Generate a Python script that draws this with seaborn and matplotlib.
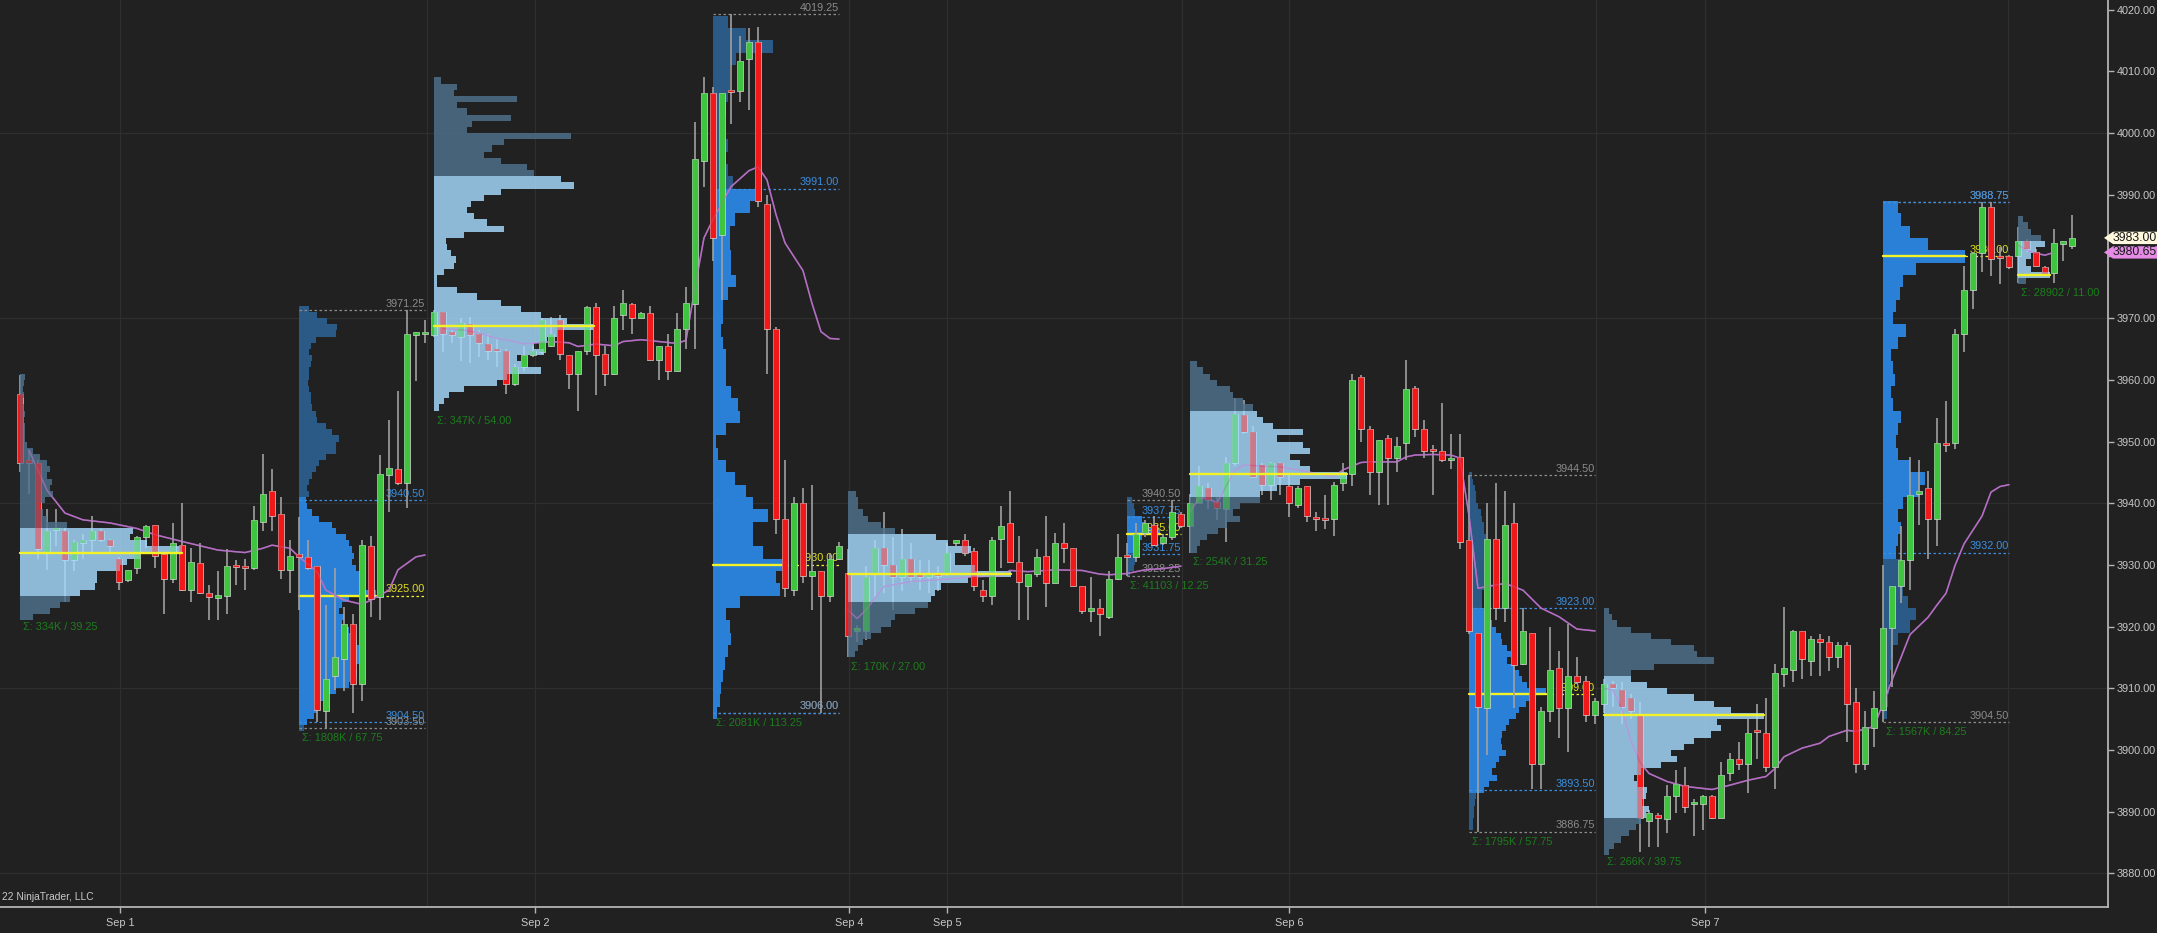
import numpy as np
import pandas as pd
import matplotlib
matplotlib.use("Agg")
import matplotlib.pyplot as plt
from matplotlib.patches import Polygon
from matplotlib.transforms import blended_transform_factory
import seaborn as sns

# ES 15-minute bars, Sep 1 - Sep 7
opens = [
    3957.75, 3947.0, 3946.5, 3932.0, 3935.75, 3935.5, 3930.75, 3933.5, 3934.0, 3935.5,
    3934.0, 3931.0, 3927.5, 3929.5, 3934.5, 3936.5, 3931.75, 3927.75, 3933.25, 3926.0,
    3930.25, 3925.5, 3924.75, 3925.0, 3930.0, 3929.75, 3929.5, 3937.0, 3942.0, 3938.25,
    3929.25, 3931.75, 3931.25, 3929.75, 3906.25, 3912.0, 3914.75, 3920.5, 3910.75, 3933.0,
    3924.75, 3944.5, 3945.5, 3943.25, 3967.5, 3967.5, 3967.25, 3971.0, 3967.75, 3967.0,
    3969.0, 3967.5, 3965.75, 3965.0, 3964.75, 3959.25, 3962.0, 3964.0, 3964.5, 3965.5,
    3969.75, 3964.0, 3961.0, 3964.75, 3971.75, 3964.25, 3961.0, 3970.5, 3972.25, 3970.0,
    3970.75, 3963.25, 3965.5, 3961.5, 3968.25, 3972.25, 3995.5, 4006.5, 3983.5, 4007.0,
    4006.75, 4012.0, 4014.75, 3988.5, 3968.25, 3937.5, 3926.0, 3940.0, 3928.25, 3929.0,
    3925.0, 3931.0, 3928.75, 3919.25, 3919.25, 3928.5, 3932.75, 3930.0, 3928.0, 3931.0,
    3928.5, 3928.0, 3928.5, 3928.5, 3933.5, 3934.0, 3932.25, 3926.0, 3925.0, 3934.25,
    3936.75, 3930.5, 3926.5, 3928.5, 3931.5, 3927.0, 3933.5, 3932.75, 3926.5, 3922.5,
    3923.0, 3921.5, 3927.75, 3931.5, 3931.25, 3935.25, 3936.5, 3933.5, 3934.5, 3938.25,
    3936.25, 3940.0, 3942.5, 3940.25, 3939.0, 3946.5, 3954.25, 3951.5, 3946.25, 3943.0,
    3946.5, 3942.75, 3939.75, 3942.75, 3937.75, 3937.5, 3937.5, 3943.25, 3944.75, 3960.5,
    3952.0, 3945.0, 3950.5, 3947.25, 3949.75, 3958.75, 3952.0, 3948.75, 3948.5, 3947.0,
    3947.5, 3934.0, 3919.0, 3906.75, 3934.25, 3923.0, 3936.75, 3914.0, 3919.0, 3897.75,
    3906.25, 3913.25, 3906.75, 3912.0, 3911.25, 3905.75, 3907.5, 3910.75, 3909.75, 3908.5,
    3905.75, 3888.5, 3889.5, 3888.75, 3892.5, 3894.25, 3891.25, 3891.25, 3892.5, 3889.0,
    3896.25, 3898.5, 3897.75, 3903.25, 3902.75, 3897.25, 3912.25, 3913.0, 3919.25, 3914.5,
    3918.0, 3917.5, 3915.0, 3917.0, 3907.75, 3897.75, 3903.5, 3906.5, 3919.75, 3926.5,
    3930.75, 3941.5, 3942.5, 3937.5, 3949.75, 3949.75, 3967.5, 3974.5, 3980.5, 3988.0,
    3980.0, 3980.0, 3980.0, 3982.5, 3980.75, 3978.25, 3977.25, 3982.25, 3981.75,
]
highs = [
    3960.75, 3948.5, 3947.0, 3939.0, 3939.0, 3936.0, 3934.0, 3935.0, 3938.0, 3935.75,
    3934.25, 3931.25, 3929.25, 3934.75, 3936.5, 3936.5, 3932.0, 3936.75, 3940.0, 3932.75,
    3933.5, 3926.75, 3929.0, 3932.5, 3930.75, 3931.0, 3939.5, 3948.0, 3945.5, 3941.0,
    3934.0, 3937.75, 3934.0, 3929.75, 3923.5, 3929.5, 3923.25, 3922.0, 3934.0, 3934.75,
    3947.75, 3953.5, 3958.25, 3971.25, 3967.75, 3969.75, 3971.25, 3971.0, 3968.0, 3970.0,
    3970.25, 3968.0, 3967.5, 3966.75, 3965.0, 3962.5, 3965.5, 3965.5, 3970.0, 3970.25,
    3970.5, 3964.0, 3964.75, 3972.0, 3972.5, 3965.5, 3972.0, 3974.5, 3972.5, 3971.0,
    3972.0, 3965.5, 3967.5, 3970.75, 3975.0, 4001.75, 4009.0, 4007.5, 4006.5, 4019.25,
    4015.75, 4017.0, 4017.25, 3990.0, 3968.5, 3947.0, 3941.0, 3942.5, 3943.0, 3929.0,
    3932.0, 3933.75, 3932.5, 3920.25, 3929.75, 3934.0, 3938.5, 3934.5, 3935.75, 3933.5,
    3930.75, 3930.75, 3929.75, 3933.5, 3934.0, 3935.0, 3932.75, 3927.5, 3934.5, 3939.5,
    3942.0, 3934.75, 3928.5, 3932.5, 3938.0, 3935.25, 3936.75, 3932.75, 3926.5, 3928.0,
    3924.5, 3929.0, 3935.0, 3933.5, 3936.75, 3937.25, 3938.0, 3935.0, 3940.5, 3938.5,
    3941.5, 3946.0, 3943.25, 3941.0, 3947.5, 3957.0, 3956.75, 3952.5, 3946.5, 3946.75,
    3946.75, 3944.75, 3942.75, 3942.75, 3938.5, 3941.25, 3943.5, 3946.5, 3961.0, 3960.75,
    3952.5, 3950.25, 3951.0, 3950.75, 3963.25, 3959.0, 3953.5, 3949.5, 3956.25, 3951.25,
    3951.25, 3944.5, 3919.0, 3940.0, 3943.25, 3942.0, 3940.0, 3923.0, 3919.0, 3907.0,
    3920.0, 3916.0, 3920.5, 3915.0, 3912.0, 3908.5, 3911.5, 3911.25, 3911.0, 3909.0,
    3907.75, 3890.25, 3889.75, 3894.25, 3896.75, 3897.25, 3892.0, 3892.75, 3892.75, 3898.0,
    3899.5, 3901.25, 3905.0, 3907.5, 3908.5, 3914.0, 3923.25, 3919.5, 3919.25, 3918.5,
    3918.75, 3918.5, 3917.5, 3917.5, 3910.0, 3906.25, 3909.5, 3930.0, 3926.5, 3936.25,
    3947.5, 3947.0, 3945.25, 3953.75, 3956.5, 3968.25, 3978.5, 3980.75, 3988.75, 3988.75,
    3981.5, 3980.25, 3984.75, 3982.75, 3981.25, 3978.5, 3984.5, 3982.5, 3986.75,
]
lows = [
    3945.0, 3941.5, 3931.0, 3929.25, 3933.0, 3924.0, 3929.0, 3931.0, 3932.0, 3933.75,
    3932.0, 3926.0, 3927.25, 3928.5, 3932.75, 3929.5, 3922.0, 3927.0, 3925.75, 3924.0,
    3925.25, 3921.0, 3921.0, 3922.0, 3926.75, 3926.0, 3929.25, 3935.5, 3935.5, 3927.75,
    3925.5, 3922.75, 3929.25, 3904.5, 3903.5, 3909.75, 3909.5, 3906.0, 3908.0, 3921.5,
    3921.0, 3938.5, 3943.0, 3939.25, 3959.75, 3966.0, 3967.0, 3964.5, 3966.0, 3963.0,
    3962.75, 3963.75, 3963.25, 3962.0, 3957.75, 3959.0, 3961.5, 3963.75, 3964.25, 3965.25,
    3963.25, 3958.5, 3955.0, 3964.0, 3957.5, 3959.0, 3960.75, 3968.0, 3967.5, 3970.0,
    3963.25, 3960.0, 3960.0, 3961.5, 3965.0, 3965.0, 3991.25, 3979.25, 3973.0, 4001.5,
    4005.0, 4003.75, 3988.0, 3961.0, 3935.0, 3924.75, 3925.0, 3927.0, 3922.75, 3906.0,
    3924.0, 3930.75, 3915.0, 3917.5, 3917.75, 3924.75, 3925.5, 3922.75, 3925.75, 3927.0,
    3926.0, 3925.5, 3925.75, 3928.25, 3933.0, 3931.5, 3925.75, 3924.0, 3923.5, 3929.5,
    3930.5, 3921.0, 3921.0, 3928.0, 3923.25, 3927.0, 3930.25, 3926.5, 3922.0, 3920.75,
    3918.5, 3921.25, 3927.5, 3928.25, 3930.5, 3934.5, 3933.0, 3933.25, 3934.0, 3936.0,
    3932.0, 3940.0, 3939.0, 3937.25, 3933.75, 3946.0, 3951.25, 3944.25, 3941.25, 3940.5,
    3941.25, 3937.75, 3939.25, 3937.0, 3935.5, 3935.75, 3934.75, 3942.0, 3942.75, 3950.0,
    3941.25, 3939.75, 3939.75, 3945.0, 3947.0, 3950.75, 3947.25, 3941.25, 3946.75, 3945.5,
    3932.5, 3918.75, 3886.75, 3899.25, 3921.0, 3920.75, 3906.75, 3913.75, 3893.75, 3893.75,
    3904.5, 3902.0, 3899.75, 3910.75, 3904.5, 3904.25, 3906.0, 3907.0, 3904.25, 3905.0,
    3883.5, 3884.25, 3884.25, 3886.5, 3889.75, 3889.75, 3886.0, 3887.0, 3888.75, 3889.0,
    3895.0, 3896.75, 3893.0, 3898.5, 3896.5, 3893.75, 3910.25, 3911.0, 3911.5, 3912.0,
    3912.0, 3912.75, 3913.25, 3901.25, 3896.25, 3896.75, 3900.5, 3904.5, 3910.25, 3923.75,
    3926.0, 3936.5, 3931.0, 3933.0, 3948.25, 3948.75, 3964.5, 3971.5, 3977.5, 3976.75,
    3975.5, 3978.0, 3975.75, 3980.75, 3978.5, 3976.75, 3975.75, 3979.25, 3981.25,
]
closes = [
    3946.5, 3946.5, 3932.5, 3935.5, 3936.0, 3930.75, 3933.75, 3934.0, 3935.5, 3934.0,
    3933.0, 3927.25, 3929.25, 3934.5, 3936.25, 3931.5, 3927.75, 3933.5, 3926.0, 3930.5,
    3925.5, 3924.75, 3925.0, 3929.75, 3929.75, 3929.5, 3937.25, 3941.5, 3938.0, 3929.25,
    3931.5, 3931.25, 3929.5, 3906.5, 3911.5, 3915.0, 3920.5, 3910.75, 3933.25, 3924.5,
    3944.75, 3945.75, 3943.25, 3967.5, 3967.5, 3967.75, 3971.0, 3967.5, 3967.25, 3969.25,
    3967.25, 3966.0, 3964.75, 3964.75, 3959.25, 3962.0, 3964.0, 3964.75, 3969.75, 3967.5,
    3964.25, 3961.0, 3964.75, 3971.75, 3964.0, 3961.0, 3970.0, 3972.5, 3970.0, 3970.75,
    3963.25, 3965.5, 3961.5, 3968.25, 3972.5, 3995.75, 4006.5, 3983.0, 4006.5, 4006.75,
    4011.75, 4014.75, 3989.0, 3968.25, 3937.5, 3926.25, 3940.0, 3928.25, 3929.0, 3925.0,
    3931.0, 3933.0, 3918.5, 3919.75, 3928.0, 3932.75, 3930.0, 3928.0, 3931.0, 3928.0,
    3928.0, 3928.75, 3928.25, 3932.0, 3934.0, 3932.0, 3926.5, 3925.0, 3934.0, 3936.25,
    3930.5, 3927.25, 3928.5, 3931.25, 3927.0, 3933.5, 3932.75, 3926.5, 3922.5, 3923.0,
    3922.0, 3927.75, 3931.25, 3931.25, 3935.0, 3936.75, 3933.25, 3934.5, 3938.5, 3936.25,
    3940.0, 3942.75, 3940.5, 3939.25, 3946.5, 3954.5, 3951.5, 3944.25, 3943.0, 3946.5,
    3944.25, 3940.0, 3942.5, 3938.0, 3937.5, 3937.25, 3943.0, 3944.5, 3960.0, 3952.0,
    3945.0, 3950.25, 3947.25, 3949.25, 3958.5, 3952.0, 3948.5, 3948.5, 3947.0, 3947.25,
    3933.75, 3919.25, 3907.0, 3934.25, 3923.0, 3936.5, 3913.75, 3919.25, 3897.75, 3906.25,
    3913.0, 3906.75, 3912.0, 3911.0, 3905.75, 3908.0, 3910.75, 3910.0, 3907.0, 3906.25,
    3889.0, 3889.75, 3889.0, 3892.5, 3894.5, 3890.75, 3891.5, 3892.5, 3889.0, 3896.0,
    3898.5, 3897.75, 3902.75, 3903.0, 3897.25, 3912.5, 3913.25, 3919.25, 3914.75, 3918.0,
    3917.5, 3915.0, 3917.0, 3907.5, 3897.75, 3903.75, 3906.75, 3919.75, 3926.5, 3930.75,
    3941.25, 3942.0, 3937.5, 3949.75, 3949.5, 3967.5, 3974.5, 3980.5, 3988.0, 3979.5,
    3979.75, 3978.25, 3982.5, 3981.25, 3978.5, 3977.0, 3982.25, 3982.25, 3983.0,
]

# sessions (bar index of first / last bar), RTH = day session, ETH = overnight
sess_start = [0, 31, 46, 77, 92, 123, 130, 161, 176, 207, 222]
sess_end = [30, 45, 76, 91, 122, 129, 160, 175, 206, 221, 228]
sess_kind = ["rth", "eth", "rth", "eth", "rth", "eth", "rth", "eth", "rth", "eth", "rth"]
sess_high = [3960.75, 3971.25, 4009.0, 4019.25, 3942.0, 3940.5, 3963.25, 3944.5, 3923.25, 3988.75, 3986.75]
sess_low = [3921.5, 3903.5, 3955.0, 3906.0, 3915.0, 3928.25, 3932.0, 3886.75, 3883.5, 3904.5, 3975.75]
sess_poc = [3932.0, 3925.0, 3968.75, 3930.0, 3928.5, 3935.0, 3944.75, 3909.0, 3905.75, 3980.0, 3977.0]
sess_vah = [3936.25, 3940.5, 3993.0, 3991.0, 3934.75, 3937.75, 3954.5, 3923.0, 3911.5, 3988.75, 3982.75]
sess_val = [3925.5, 3904.5, 3955.0, 3906.0, 3924.25, 3931.75, 3941.0, 3893.5, 3888.75, 3932.0, 3976.75]
sess_volume = ["334K", "1808K", "347K", "2081K", "170K", "41103", "254K", "1795K", "266K", "1567K", "28902"]

# volume profiles, top price level first (relative volume per level)
prof_top = [3960.5, 3971.5, 4008.5, 4018.0, 3941.5, 3940.5, 3962.5, 3944.5, 3922.5, 3988.0, 3986.0]
prof_step = [1, 1, 1, 2, 1, 1, 1, 1, 1, 2, 1]
prof_vol = [
    [15, 12, 10, 12, 10, 12, 14, 12, 15, 14, 16, 20, 40, 60, 80, 90, 80, 95, 90, 100,
     75, 60, 70, 80, 140, 340, 330, 380, 485, 360, 320, 300, 230, 230, 225, 180, 150, 120, 90, 40],
    [30, 55, 85, 115, 110, 50, 35, 30, 40, 35, 30, 30, 28, 30, 35, 35, 40, 50, 55, 80,
     100, 120, 110, 110, 80, 60, 50, 40, 30, 25, 30, 20, 25, 40, 60, 100, 110, 140, 150, 160,
     165, 160, 170, 185, 190, 195, 230, 150, 130, 120, 135, 130, 150, 170, 175, 180, 180, 180, 170, 175,
     165, 150, 110, 80, 60, 55, 45, 25, 15],
    [20, 70, 60, 250, 70, 100, 230, 115, 100, 410, 210, 175, 150, 200, 280, 300, 380, 420, 200, 150,
     110, 100, 120, 160, 210, 90, 35, 40, 50, 65, 60, 30, 10, 8, 70, 130, 200, 260, 320, 400,
     480, 370, 340, 300, 330, 250, 260, 320, 220, 190, 90, 45, 30, 15],
    [45, 100, 180, 70, 50, 50, 45, 40, 35, 35, 45, 40, 45, 60, 130, 110, 65, 50, 50, 55,
     55, 70, 45, 30, 30, 25, 30, 40, 40, 40, 55, 75, 80, 40, 10, 15, 40, 65, 100, 120,
     165, 120, 120, 150, 220, 190, 200, 80, 40, 50, 55, 45, 35, 30, 25, 20, 12],
    [25, 30, 30, 45, 60, 100, 140, 265, 300, 370, 320, 320, 380, 490, 360, 280, 260, 250, 240, 200,
     140, 130, 100, 70, 45, 30, 20],
    [15, 20, 25, 45, 55, 100, 45, 40, 35, 30, 25, 20, 10],
    [20, 40, 60, 80, 120, 130, 160, 190, 200, 220, 250, 340, 260, 340, 360, 300, 330, 360, 470, 330,
     260, 210, 210, 150, 130, 150, 110, 85, 50, 30, 20],
    [10, 12, 18, 20, 22, 28, 35, 40, 45, 45, 50, 48, 52, 55, 50, 45, 55, 50, 45, 40,
     40, 38, 50, 55, 70, 80, 95, 100, 115, 125, 115, 135, 150, 160, 175, 230, 200, 170, 150, 140,
     120, 110, 100, 95, 100, 110, 90, 80, 70, 85, 60, 45, 20, 18, 15, 15, 12, 12],
    [15, 25, 40, 80, 140, 200, 270, 280, 330, 150, 80, 80, 130, 190, 270, 330, 380, 480, 340, 350,
     320, 270, 240, 200, 220, 170, 110, 90, 100, 130, 125, 115, 135, 125, 110, 95, 75, 50, 30, 15],
    [45, 55, 80, 135, 245, 100, 60, 50, 40, 30, 70, 45, 25, 30, 35, 25, 30, 55, 45, 40,
     45, 80, 125, 110, 60, 45, 55, 45, 40, 55, 60, 60, 75, 100, 80, 45, 30, 25, 20, 18, 15, 12],
    [15, 30, 40, 70, 80, 55, 40, 25, 40, 97, 25],
]

# VWAP, one line per trading day
vwap_bar = [1, 3, 5, 7, 10, 13, 15, 18, 22, 25, 27, 28, 30, 31, 33, 34, 36, 38, 39, 41, 42, 44, 45,
            47, 49, 51, 53, 55, 56, 59, 61, 62, 64, 66, 67, 69, 71, 73, 74, 75, 76, 77, 79, 81, 82,
            83, 84, 85, 87, 88, 89, 90, 91,
            92, 93, 94, 96, 99, 103, 106, 109, 110, 112, 115, 118, 120, 121, 123, 125, 127, 129,
            130, 131, 132, 133, 134, 135, 136, 138, 140, 142, 144, 146, 147, 149, 150, 153, 154, 155,
            157, 159, 160, 161, 162, 163, 165, 167, 169, 171, 173, 175,
            176, 177, 178, 179, 180, 181, 183, 185, 188, 190, 192, 194, 195, 196, 198, 200, 201, 203,
            204, 206, 207, 208, 210, 212, 213, 214, 215, 216, 218, 219, 220, 221,
            222, 223, 224, 225, 226]
vwap_val = [3948.6, 3942.1, 3938.4, 3937.3, 3936.8, 3935.9, 3934.9, 3933.8, 3932.4, 3932.0, 3932.7,
            3933.2, 3932.7, 3931.3, 3928.9, 3925.9, 3924.3, 3923.6, 3924.3, 3925.9, 3929.2, 3931.3, 3931.6,
            3968.3, 3968.1, 3967.6, 3966.7, 3966.2, 3965.8, 3966.2, 3966.0, 3965.4, 3965.8, 3965.5,
            3966.2, 3966.5, 3966.2, 3965.9, 3966.4, 3975.0, 3983.0, 3986.0, 3991.3, 3993.9, 3994.5,
            3992.4, 3986.8, 3982.2, 3977.7, 3972.4, 3967.8, 3966.7, 3966.6,
            3922.7, 3921.3, 3922.7, 3926.5, 3927.3, 3927.7, 3928.1, 3928.2, 3929.1, 3928.9, 3929.2,
            3929.1, 3928.5, 3928.4, 3928.6, 3929.2, 3929.4, 3929.8,
            3938.6, 3940.8, 3940.8, 3940.0, 3942.7, 3945.4, 3946.2, 3946.0, 3945.9, 3945.4, 3944.8,
            3944.3, 3945.4, 3946.6, 3946.7, 3946.7, 3947.5, 3947.8, 3947.9, 3947.8, 3947.3, 3938.0,
            3926.2, 3926.5, 3927.0, 3925.9, 3923.0, 3921.6, 3919.6, 3919.3,
            3910.0, 3909.7, 3906.5, 3901.5, 3898.0, 3896.2, 3894.9, 3894.1, 3893.6, 3894.3, 3895.1,
            3895.7, 3897.0, 3898.9, 3900.3, 3901.1, 3902.2, 3903.2, 3903.0, 3903.8, 3907.5, 3911.3,
            3918.7, 3921.5, 3923.5, 3925.4, 3929.9, 3933.4, 3937.9, 3941.8, 3942.7, 3943.0,
            3981.8, 3981.0, 3980.5, 3980.2, 3980.65]
vwap_day = [0] * 23 + [1] * 30 + [2] * 18 + [3] * 30 + [4] * 32 + [5] * 5

date_pos = [11.1, 57.2, 92.1, 103.0, 141.0, 187.2]
date_labels = ["Sep 1", "Sep 2", "Sep 4", "Sep 5", "Sep 6", "Sep 7"]
break_pos = [45.2, 129.1, 175.1, 220.9]
price_ticks = list(range(3880, 4021, 10))
last_price = 3983.00
last_vwap = 3980.65

BG = "#212121"
GRID = "#2f2f2f"
TXT = "#c8c8c8"
UP = "#3ec43e"
DOWN = "#f01818"
WICK = "#a0a0a0"
VWAP_C = "#b46ec3"
POC_C = "#f2f226"
RTH_VA, RTH_OUT = "#a6dcff", "#50728d"
ETH_VA, ETH_OUT = "#2a80d6", "#2b5a87"
LBL_GRAY, LBL_BLUE, LBL_YEL = "#8c8c8c", "#3b8fe0", "#e0e020"
SIGMA_C = "#1d7d1d"
BAR_PER_VOL = 1 / 27.0

sns.set_theme(style="dark", rc={
    "axes.facecolor": BG,
    "figure.facecolor": BG,
    "axes.edgecolor": "#b4b4b4",
    "axes.grid": False,
    "xtick.color": "#b4b4b4",
    "ytick.color": "#b4b4b4",
})
plt.rcParams["font.family"] = ["Liberation Sans", "DejaVu Sans"]

fig = plt.figure(figsize=(21.57, 9.33), dpi=100)
ax = fig.add_axes([0, 26.3 / 933, 2108 / 2157, 906.7 / 933])
ax.set_xlim(-2.22, 232.0)
ax.set_ylim(3874.6, 4021.56)

# grid
for p in [3880, 3910, 3940, 3970, 4000]:
    ax.axhline(p, color=GRID, lw=0.9, zorder=0)
for xp in date_pos + break_pos:
    ax.axvline(xp, color=GRID, lw=0.9, zorder=0)

o = np.array(opens)
h = np.array(highs)
lo = np.array(lows)
c = np.array(closes)
bars = np.arange(len(o))
up = c >= o
body_min = np.minimum(o, c)
body_len = np.abs(c - o)
body_h = np.maximum(body_len, 0.35)
body_bot = body_min - (body_h - body_len) / 2
body_col = np.where(up, UP, DOWN)

# profiles
for i in range(len(sess_start)):
    vols = np.array(prof_vol[i], dtype=float)
    step = prof_step[i]
    centers = prof_top[i] - step * np.arange(len(vols))
    in_va = (centers >= sess_val[i] - 0.01) & (centers <= sess_vah[i] + 0.01)
    x0 = sess_start[i]
    x1 = sess_end[i]
    widths = vols * BAR_PER_VOL
    poc_w = widths.max()
    if sess_kind[i] == "rth":
        cols = np.where(in_va, RTH_VA, RTH_OUT)
        ax.barh(centers, widths, height=step, left=x0, color=cols, linewidth=0,
                alpha=0.82, zorder=4)
        ax.plot([x0, x0 + poc_w], [sess_poc[i]] * 2, color=POC_C, lw=1.7, zorder=6)
    else:
        cols = np.where(in_va, ETH_VA, ETH_OUT)
        ax.barh(centers, widths, height=step, left=x0, color=cols, linewidth=0, zorder=1)
        ax.plot([x0, x0 + poc_w], [sess_poc[i]] * 2, color=POC_C, lw=1.7, zorder=2.4)
        ax.plot([x0 + poc_w, x1], [sess_poc[i]] * 2, color=POC_C, lw=0.9,
                ls=(0, (2, 2)), zorder=2.4)
        for lvl, col in [(sess_high[i], LBL_GRAY), (sess_low[i], LBL_GRAY),
                         (sess_vah[i], LBL_BLUE), (sess_val[i], LBL_BLUE)]:
            ax.plot([x0, x1], [lvl, lvl], color=col, lw=0.9, ls=(0, (2, 2)), zorder=1.5)
        for lvl, col in [(sess_high[i], LBL_GRAY), (sess_vah[i], LBL_BLUE),
                         (sess_poc[i], LBL_YEL), (sess_val[i], LBL_BLUE),
                         (sess_low[i], LBL_GRAY)]:
            ax.text(x1, lvl + 0.25, f"{lvl:.2f}", color=col, fontsize=7.8,
                    ha="right", va="bottom", zorder=2.3)
    rng = sess_high[i] - sess_low[i]
    ax.text(x0 + 0.3, sess_low[i] - 1.6, f"\u03a3: {sess_volume[i]} / {rng:.2f}",
            color=SIGMA_C, fontsize=7.8, ha="left", va="center", zorder=6)

# VWAP
vw = pd.DataFrame({"bar": vwap_bar, "vwap": vwap_val, "day": vwap_day})
sns.lineplot(data=vw, x="bar", y="vwap", units="day", estimator=None, sort=False,
             color=VWAP_C, linewidth=1.1, ax=ax, legend=False, zorder=2.6)
sns.lineplot(data=vw, x="bar", y="vwap", units="day", estimator=None, sort=False,
             color=VWAP_C, linewidth=1.1, alpha=0.5, ax=ax, legend=False, zorder=5)

# candles
ax.vlines(bars, lo, h, color=WICK, lw=1.2, zorder=3)
ax.bar(bars, body_h, bottom=body_bot, width=0.56, color=body_col,
       edgecolor="#d9d9d9", linewidth=0.5, zorder=3.1)
ax.bar(bars, body_h, bottom=body_bot, width=0.56, color=body_col,
       linewidth=0, alpha=0.4, zorder=5)

# axes styling
ax.set_xlabel("")
ax.set_ylabel("")
for s in ["top", "left"]:
    ax.spines[s].set_visible(False)
ax.spines["right"].set_color("#b4b4b4")
ax.spines["bottom"].set_color("#b4b4b4")
ax.spines["right"].set_linewidth(1.3)
ax.spines["bottom"].set_linewidth(1.3)
ax.yaxis.tick_right()
ax.set_yticks(price_ticks)
ax.set_yticklabels(["" if abs(p - last_vwap) < 2 else f"{p:.2f}" for p in price_ticks])
ax.set_xticks(date_pos)
ax.set_xticklabels(date_labels)
ax.tick_params(axis="y", which="both", right=True, left=False, length=4, width=1,
               pad=2, labelsize=7.8, labelcolor=TXT)
ax.tick_params(axis="x", which="both", bottom=True, length=4, width=1,
               pad=4, labelsize=7.8, labelcolor=TXT)

# price markers on the axis
tr = blended_transform_factory(fig.transFigure, ax.transData)
for val, face in [(last_price, "#fff8dc"), (last_vwap, "#e58be6")]:
    hh = 1.0
    tip, box, end = 2104 / 2157, 2113 / 2157, 1.0
    fig.add_artist(Polygon([(tip, val), (box, val + hh), (end, val + hh), (end, val - hh),
                            (box, val - hh)], closed=True, transform=tr, facecolor=face,
                           edgecolor="none", zorder=10))
    fig.text(2135 / 2157, val, f"{val:.2f}", transform=tr, ha="center", va="center",
             fontsize=8.8, color="#1a1a1a", zorder=11)

fig.text(2 / 2157, 36 / 933, "22 NinjaTrader, LLC", color=TXT, fontsize=7.4,
         ha="left", va="center")

fig.savefig("out.png", dpi=100, facecolor=BG)
